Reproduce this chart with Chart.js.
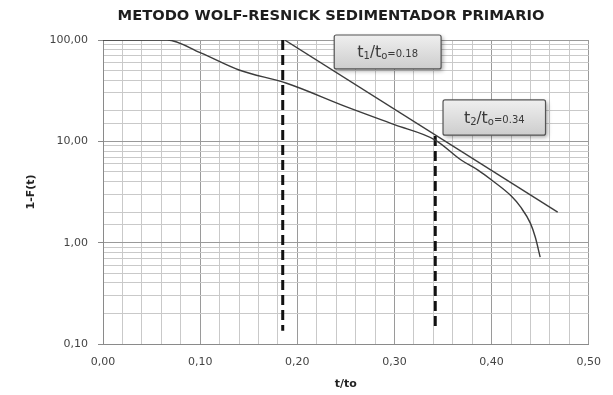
<!DOCTYPE html>
<html>
<head>
<meta charset="utf-8">
<script src="https://cdn.jsdelivr.net/npm/chart.js@4.4.1/dist/chart.umd.min.js"></script>
<style>
  html, body { margin: 0; padding: 0; background: #fff; }
  #wrap { width: 613px; height: 395px; position: relative; }
</style>
</head>
<body>
<div id="wrap"><canvas id="c" width="613" height="395"></canvas></div>
<script>
// Measured curve 1-F(t) against t/to
const tRatio    = [0, 0.02, 0.04, 0.066, 0.10, 0.14, 0.189, 0.25, 0.30, 0.342, 0.369, 0.386, 0.40, 0.42, 0.43, 0.44, 0.445, 0.45];
const remaining = [100, 100, 100, 100, 75, 50.6, 37.4, 22, 14.6, 10.3, 6.5, 5.2, 4.15, 2.9, 2.24, 1.55, 1.13, 0.72];

// Straight reference line (log scale)
const lineT   = [0.187, 0.468];
const lineVal = [100, 2.0];

// Vertical dashed markers
const t1 = 0.185, t2 = 0.342;
const mark1Val = [100, 0.135];
const mark2Val = [11.3, 0.135];

// Axis ticks
const xMajorTicks = [0, 0.1, 0.2, 0.3, 0.4, 0.5];
const yMajorTicks = [0.1, 1, 10, 100];

const chartTitle = 'METODO WOLF-RESNICK SEDIMENTADOR PRIMARIO';

// Annotation boxes
const boxLabels = [
  { parts: [['t',16,0],['1',10,1],['/',15,0],['t',16,0],['o',10,1],['=0.18',10,0]], x: [0.238, 0.348], y: [112, 51.8] },
  { parts: [['t',16,0],['2',10,1],['/',15,0],['t',16,0],['o',10,1],['=0.34',10,0]], x: [0.350, 0.4555], y: [25.6, 11.5] }
];

const pts = (xs, ys) => xs.map((x, i) => ({ x, y: ys[i] }));
const near = (v, list) => list.some(m => Math.abs(v - m) < 1e-6 * Math.max(1, m));
const fmt = (v, d) => v.toFixed(d).replace('.', ',');

// Heading, centred a little right of the canvas middle
const titlePlugin = {
  id: 'heading',
  afterDraw(chart) {
    const { ctx } = chart;
    ctx.save();
    ctx.font = 'bold 14.7px "DejaVu Sans"';
    ctx.fillStyle = '#1e1e1e';
    ctx.textAlign = 'center';
    ctx.textBaseline = 'middle';
    ctx.fillText(chartTitle, 331, 16);
    ctx.restore();
  }
};

const boxPlugin = {
  id: 'boxes',
  afterDraw(chart) {
    const { ctx, scales: { x, y } } = chart;
    boxLabels.forEach(b => {
      const x0 = x.getPixelForValue(b.x[0]), x1 = x.getPixelForValue(b.x[1]);
      const y0 = y.getPixelForValue(b.y[0]), y1 = y.getPixelForValue(b.y[1]);
      const w = x1 - x0, h = y1 - y0;
      ctx.save();
      ctx.shadowColor = 'rgba(0,0,0,0.35)';
      ctx.shadowBlur = 4;
      ctx.shadowOffsetX = 2;
      ctx.shadowOffsetY = 2;
      const g = ctx.createLinearGradient(0, y0, 0, y1);
      g.addColorStop(0, '#efefef');
      g.addColorStop(1, '#cdcdcd');
      ctx.fillStyle = g;
      ctx.beginPath();
      ctx.roundRect(x0, y0, w, h, 2);
      ctx.fill();
      ctx.shadowColor = 'transparent';
      ctx.strokeStyle = '#555';
      ctx.lineWidth = 1.2;
      ctx.stroke();
      // text with subscripts
      let total = 0;
      b.parts.forEach(p => { ctx.font = p[1] + 'px "DejaVu Sans"'; total += ctx.measureText(p[0]).width; });
      let cx = x0 + (w - total) / 2;
      const base = y0 + h / 2 + 5;
      ctx.fillStyle = '#3a3a3a';
      ctx.textBaseline = 'alphabetic';
      b.parts.forEach(p => {
        ctx.font = p[1] + 'px "DejaVu Sans"';
        ctx.fillText(p[0], cx, base + (p[2] ? 2 : 0));
        cx += ctx.measureText(p[0]).width;
      });
      ctx.restore();
    });
  }
};

new Chart(document.getElementById('c'), {
  type: 'scatter',
  data: {
    datasets: [
      { data: pts(tRatio, remaining), showLine: true, borderColor: '#3c3c3c', borderWidth: 1.4, pointRadius: 0, cubicInterpolationMode: 'monotone' },
      { data: pts(lineT, lineVal), showLine: true, borderColor: '#3c3c3c', borderWidth: 1.4, pointRadius: 0 },
      { data: pts([t1, t1], mark1Val), showLine: true, borderColor: '#111', borderWidth: 3, borderDash: [10, 5], pointRadius: 0 },
      { data: pts([t2, t2], mark2Val), showLine: true, borderColor: '#111', borderWidth: 3, borderDash: [10, 5], pointRadius: 0 }
    ]
  },
  options: {
    responsive: false,
    animation: false,
    layout: { padding: { left: 0, right: 22, top: 40, bottom: 0 } },
    plugins: {
      legend: { display: false },
      tooltip: { enabled: false },
      title: { display: false }
    },
    scales: {
      x: {
        type: 'linear',
        min: 0, max: 0.5,
        afterFit: s => { s.height = 51; },
        ticks: {
          stepSize: 0.02,
          autoSkip: false,
          maxRotation: 0,
          padding: 12,
          color: '#444',
          font: { family: 'DejaVu Sans', size: 11 },
          callback: v => near(v, xMajorTicks) ? fmt(v, 2) : ''
        },
        grid: {
          drawTicks: false,
          color: c => near(c.tick.value, xMajorTicks) ? '#9a9a9a' : '#c9c9c9',
          lineWidth: 1
        },
        border: { color: '#8a8a8a' },
        title: {
          display: true, text: 't/to', color: '#222',
          font: { family: 'DejaVu Sans', size: 11, weight: 'bold' },
          padding: { top: 0, bottom: 4 }
        }
      },
      y: {
        type: 'logarithmic',
        min: 0.1, max: 100,
        afterFit: s => { s.width = 103; },
        ticks: {
          autoSkip: false,
          padding: 10,
          color: '#444',
          font: { family: 'DejaVu Sans', size: 11 },
          callback: v => near(v, yMajorTicks) ? fmt(v, 2) : ''
        },
        grid: {
          tickLength: 5,
          color: c => near(c.tick.value, yMajorTicks) ? '#9a9a9a' : '#c9c9c9',
          tickColor: c => near(c.tick.value, yMajorTicks) ? '#8a8a8a' : 'rgba(0,0,0,0)'
        },
        border: { color: '#8a8a8a' },
        title: {
          display: true, text: '1-F(t)', color: '#222',
          font: { family: 'DejaVu Sans', size: 11, weight: 'bold' },
          padding: { top: 25, bottom: 0 }
        }
      }
    }
  },
  plugins: [titlePlugin, boxPlugin]
});
</script>
</body>
</html>
